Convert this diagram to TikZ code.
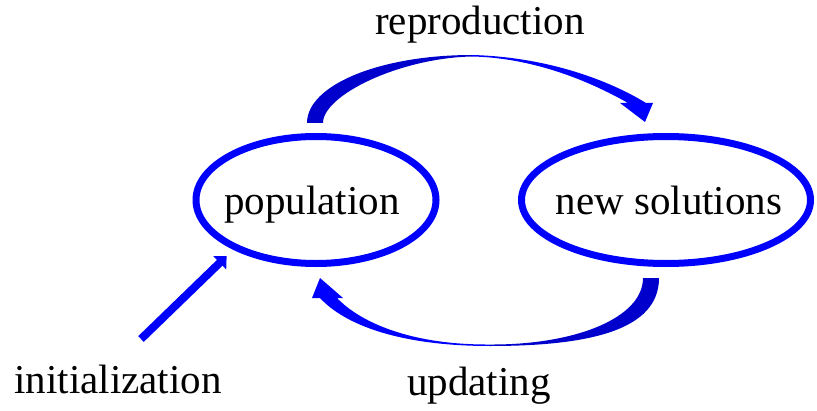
\documentclass[tikz,border=0pt]{standalone}
\usepackage{fontspec}
\setmainfont{Liberation Serif}
\usepackage{tikz}
\usetikzlibrary{arrows.meta}
\usetikzlibrary{shapes.geometric}

\begin{document}
\begin{tikzpicture}[x=0.5pt, y=-0.5pt,
        set_node_style/.style={ellipse,draw=blue,line width=3.5pt,minimum height=63.5pt},
        label_style/.style={font=\fontsize{20.5}{24}\selectfont},
        init_edge_style/.style={draw=blue,line width=4pt,-{Triangle[length=4.8pt,width=9pt]},shorten >=4.6pt},
        dark_flow_style/.style={fill=blue!80!black},
        flow_style/.style={fill=blue}]

        \useasboundingbox (0,0) rectangle (817,411);

        \node [set_node_style,minimum width=120pt,label={[label_style,xshift=-2pt,yshift=-2.5pt]center:population}](pop) at (316,200) {};

        \node [set_node_style,minimum width=144.5pt,label={[label_style,xshift=1.5pt]center:new solutions}](newsol) at (666,200) {};

        \node [label_style,anchor=base](reprod) at (480,35) {reproduction};

        \node [label_style,anchor=base](upd) at (479,395) {updating};

        \node [label_style,anchor=base](init) at (118,393) {initialization};

        % reproduction: pop -> newsol
        \fill [dark_flow_style] (307,123) .. controls (307,85) and (380,55) .. (472,55)
            -- (472,56.5) .. controls (400,58) and (323,95) .. (323,123) -- cycle;
        \fill [flow_style] (472,55) .. controls (550,57) and (612,82) .. (646,103)
            -- (653,103) -- (645,122) -- (620,103) -- (628,103)
            .. controls (598,86) and (540,58) .. (472,56.5) -- cycle;

        % updating: newsol -> pop
        \fill [dark_flow_style] (659,278) .. controls (659,330) and (590,346) .. (490,346)
            -- (490,344.5) .. controls (575,345) and (643,318) .. (643,278) -- cycle;
        \fill [flow_style] (490,346) .. controls (400,346) and (345,325) .. (320,298)
            -- (312,298) -- (320,278) -- (343,298) -- (337,298)
            .. controls (360,322) and (410,345) .. (490,344.5) -- cycle;

        \coordinate (initTail) at (141,339);
        \draw [init_edge_style] (initTail) -- (pop.211);

        \end{tikzpicture}
\end{document}
